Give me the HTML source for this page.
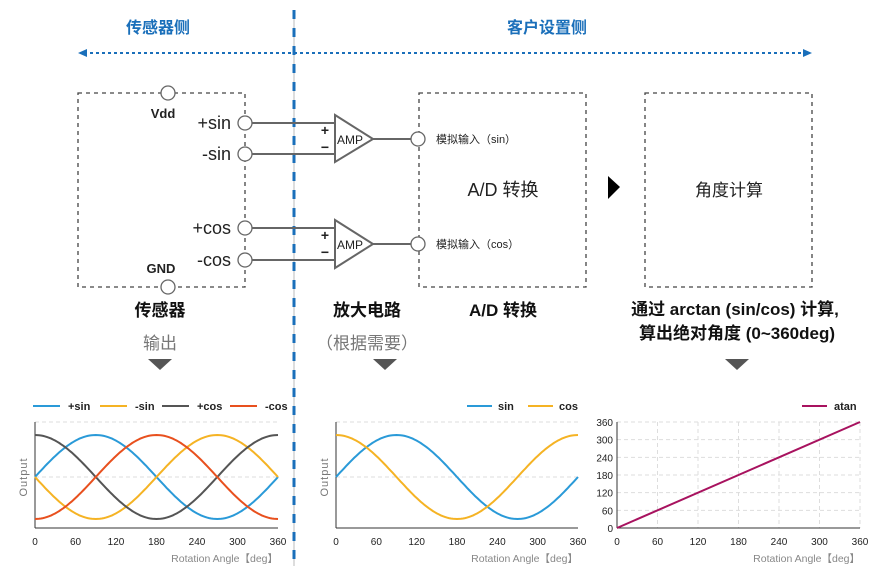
<!DOCTYPE html>
<html><head><meta charset="utf-8"><style>
html,body{margin:0;padding:0;background:#fff;}
svg{display:block;font-family:"Liberation Sans","Noto Sans CJK SC",sans-serif;}
</style></head><body>
<svg id="s" width="881" height="584" viewBox="0 0 881 584" xmlns="http://www.w3.org/2000/svg">
<!-- headings -->
<text x="158" y="33" font-size="16" font-weight="bold" fill="#1a6fba" text-anchor="middle">传感器侧</text>
<text x="547" y="33" font-size="16" font-weight="bold" fill="#1a6fba" text-anchor="middle">客户设置侧</text>
<!-- horizontal arrow -->
<line x1="84" y1="53" x2="806" y2="53" stroke="#1a6fba" stroke-width="2" stroke-dasharray="3,3"/>
<polygon points="78,53 87,49 87,57" fill="#1a6fba"/>
<polygon points="812,53 803,49 803,57" fill="#1a6fba"/>
<!-- vertical divider -->
<line x1="294" y1="10" x2="294" y2="566" stroke="#bbb" stroke-width="1"/>
<line x1="294" y1="10" x2="294" y2="566" stroke="#1a6fba" stroke-width="3" stroke-dasharray="9,9"/>
<!-- boxes -->
<g fill="none" stroke="#444" stroke-width="1.3" stroke-dasharray="4,4">
<rect x="78" y="93" width="167" height="194"/>
<rect x="419" y="93" width="167" height="194"/>
<rect x="645" y="93" width="167" height="194"/>
</g>
<!-- wires -->
<g stroke="#666" stroke-width="2">
<line x1="252" y1="123" x2="335" y2="123"/>
<line x1="252" y1="154" x2="335" y2="154"/>
<line x1="252" y1="228" x2="335" y2="228"/>
<line x1="252" y1="260" x2="335" y2="260"/>
<line x1="373" y1="139" x2="411" y2="139"/>
<line x1="373" y1="244" x2="411" y2="244"/>
</g>
<g fill="#fff" stroke="#666" stroke-width="1.3">
<circle cx="168" cy="93" r="7"/><circle cx="168" cy="287" r="7"/>
<circle cx="245" cy="123" r="7"/><circle cx="245" cy="154" r="7"/>
<circle cx="245" cy="228" r="7"/><circle cx="245" cy="260" r="7"/>
<circle cx="418" cy="139" r="7"/><circle cx="418" cy="244" r="7"/>
<polygon points="335,115 335,162 373,139" stroke-width="2"/>
<polygon points="335,220 335,268 373,244" stroke-width="2"/>
</g>
<g font-size="12" fill="#222">
<text x="337" y="144">AMP</text><text x="337" y="249">AMP</text>
</g>
<g font-size="14" font-weight="bold" fill="#222" text-anchor="middle">
<text x="325" y="135">+</text><text x="325" y="152">−</text>
<text x="325" y="240">+</text><text x="325" y="257">−</text>
</g>
<g font-size="13" font-weight="bold" fill="#222" text-anchor="middle">
<text x="163" y="118">Vdd</text><text x="161" y="273">GND</text>
</g>
<g font-size="18" fill="#222" text-anchor="end">
<text x="231" y="129">+sin</text><text x="231" y="160">-sin</text>
<text x="231" y="234">+cos</text><text x="231" y="266">-cos</text>
</g>
<g font-size="11" fill="#222">
<text x="436" y="143">模拟输入（sin）</text><text x="436" y="248">模拟输入（cos）</text>
</g>
<text x="503" y="196" font-size="18" fill="#222" text-anchor="middle">A/D 转换</text>
<text x="729" y="196" font-size="17" fill="#222" text-anchor="middle">角度计算</text>
<polygon points="608,176 620,187 608,199" fill="#000"/>
<!-- labels -->
<g font-size="17" font-weight="bold" fill="#111" text-anchor="middle">
<text x="160" y="316">传感器</text><text x="367" y="316">放大电路</text><text x="503" y="316">A/D 转换</text>
<text x="735" y="315">通过 arctan (sin/cos) 计算,</text>
<text x="737" y="339">算出绝对角度 (0~360deg)</text>
</g>
<g font-size="17" fill="#777" text-anchor="middle">
<text x="160" y="349">输出</text><text x="367" y="349">（根据需要）</text>
</g>
<g fill="#555">
<polygon points="148,359 172,359 160,370"/>
<polygon points="373,359 397,359 385,370"/>
<polygon points="725,359 749,359 737,370"/>
</g>
<g id="charts" font-size="10" fill="#222"></g>
</svg>
<script>
var g=document.getElementById('charts'),NS='http://www.w3.org/2000/svg';
function el(t,a,txt){var e=document.createElementNS(NS,t);for(var k in a)e.setAttribute(k,a[k]);if(txt)e.textContent=txt;g.appendChild(e);return e;}
function curve(x0,x1,f,col){var d='';for(var i=0;i<=120;i++){var a=i*3,x=x0+(x1-x0)*a/360,y=477-42*f(a*Math.PI/180);d+=(i?'L':'M')+x.toFixed(1)+','+y.toFixed(1);}el('path',{d:d,fill:'none',stroke:col,'stroke-width':2});}
function axes(x0,x1){
 el('line',{x1:x0,y1:422,x2:x1,y2:422,stroke:'#ddd','stroke-dasharray':'4,3'});
 el('line',{x1:x0,y1:477,x2:x1,y2:477,stroke:'#ddd','stroke-dasharray':'4,3'});
 el('line',{x1:x0,y1:422,x2:x0,y2:528,stroke:'#333'});
 el('line',{x1:x0,y1:528,x2:x1,y2:528,stroke:'#333'});
 [0,60,120,180,240,300,360].forEach(function(v){el('text',{x:x0+(x1-x0)*v/360,y:545,'text-anchor':'middle','font-size':'10'},String(v));});
 el('text',{x:x1,y:562,'text-anchor':'end','font-size':'10.5',fill:'#888'},'Rotation Angle【deg】');
}
var B='#2a9ad8',Y='#f5b324',K='#555',R='#e8501e',M='#a8125f';
axes(35,278);
el('text',{x:0,y:0,transform:'translate(27,477) rotate(-90)','text-anchor':'middle','font-size':'11',fill:'#777','letter-spacing':'1'},'Output');
curve(35,278,Math.sin,B);curve(35,278,function(a){return -Math.sin(a)},Y);
curve(35,278,Math.cos,K);curve(35,278,function(a){return -Math.cos(a)},R);
[[33,B,'+sin'],[100,Y,'-sin'],[162,K,'+cos'],[230,R,'-cos']].forEach(function(l){el('line',{x1:l[0],y1:406,x2:l[0]+27,y2:406,stroke:l[1],'stroke-width':2});el('text',{x:l[0]+35,y:410,'font-size':'11','font-weight':'bold'},l[2]);});
axes(336,578);
el('text',{x:0,y:0,transform:'translate(328,477) rotate(-90)','text-anchor':'middle','font-size':'11',fill:'#777','letter-spacing':'1'},'Output');
curve(336,578,Math.sin,B);curve(336,578,Math.cos,Y);
[[467,B,'sin'],[528,Y,'cos']].forEach(function(l){el('line',{x1:l[0],y1:406,x2:l[0]+25,y2:406,stroke:l[1],'stroke-width':2});el('text',{x:l[0]+31,y:410,'font-size':'11','font-weight':'bold'},l[2]);});
// chart 3
var X0=617,X1=860;
for(var i=0;i<=6;i++){var y=528-106*i/6,x=X0+(X1-X0)*i/6;
 if(i>0){el('line',{x1:X0,y1:y,x2:X1,y2:y,stroke:'#ddd','stroke-dasharray':'4,3'});el('line',{x1:x,y1:422,x2:x,y2:528,stroke:'#ddd','stroke-dasharray':'4,3'});}
 el('text',{x:613,y:y+4,'text-anchor':'end','font-size':'10'},String(i*60));
 el('text',{x:x,y:545,'text-anchor':'middle','font-size':'10'},String(i*60));}
el('line',{x1:X0,y1:422,x2:X0,y2:528,stroke:'#333'});el('line',{x1:X0,y1:528,x2:X1,y2:528,stroke:'#333'});
el('line',{x1:X0,y1:528,x2:X1,y2:422,stroke:M,'stroke-width':2});
el('text',{x:X1,y:562,'text-anchor':'end','font-size':'10.5',fill:'#888'},'Rotation Angle【deg】');
el('line',{x1:802,y1:406,x2:827,y2:406,stroke:M,'stroke-width':2});
el('text',{x:834,y:410,'font-size':'11','font-weight':'bold'},'atan');
</script>
</body></html>
